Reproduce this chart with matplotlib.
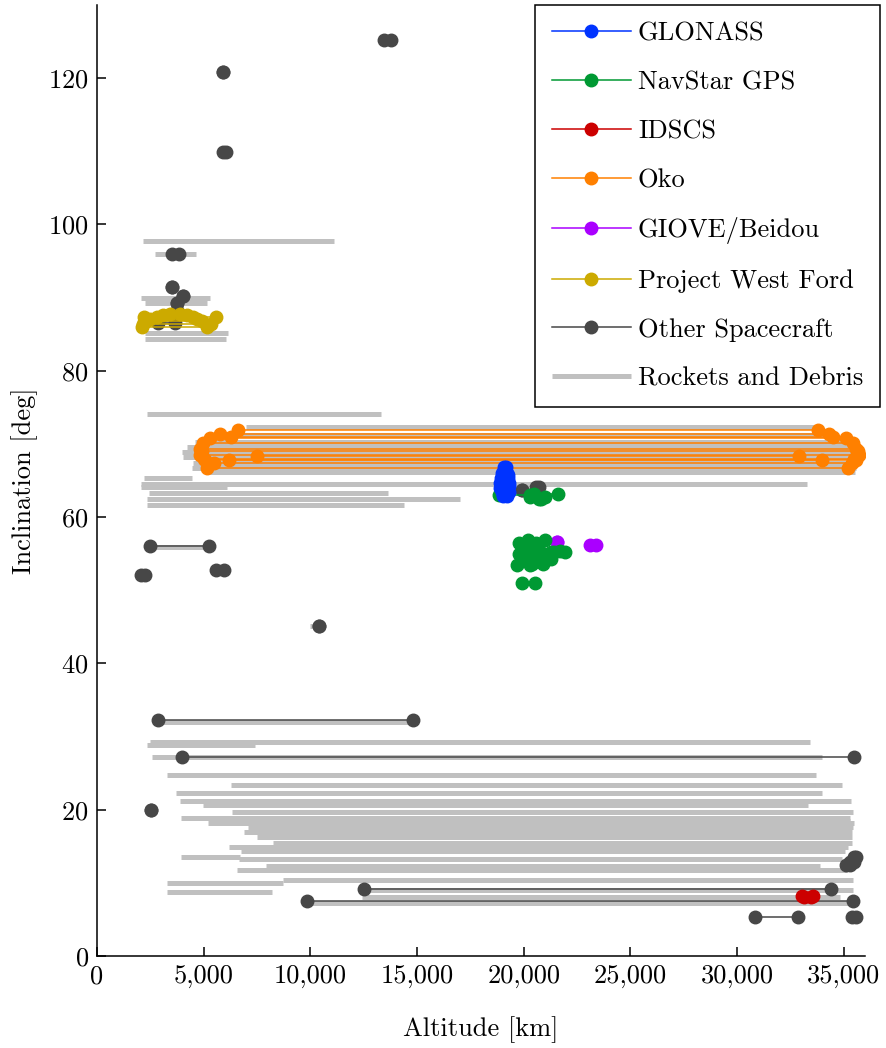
import matplotlib
matplotlib.use("Agg")
import matplotlib.pyplot as plt
from matplotlib.lines import Line2D
from matplotlib.ticker import FuncFormatter

plt.rcParams['font.family'] = 'cmr10'
plt.rcParams['axes.formatter.use_mathtext'] = True

# orbits as (perigee km, apogee km, inclination deg)
glonass = [(19100, 19150, 66.8), (19000, 19200, 66.0), (19100, 19250, 65.7),
           (18950, 19250, 65.3), (18900, 19300, 64.7), (19050, 19300, 64.3),
           (18900, 19250, 64.0), (19000, 19300, 63.4), (19050, 19200, 62.9)]

navstar = [(18850, 20300, 63.0), (20300, 21000, 62.7), (20500, 21600, 63.2),
           (20700, 20800, 62.5),
           (19800, 20600, 56.5), (19900, 20400, 56.0), (20000, 20700, 55.5),
           (19800, 20900, 55.0), (20100, 21200, 54.5), (19900, 20500, 54.0),
           (20300, 21400, 55.2), (20200, 21000, 56.9), (20400, 20900, 53.6),
           (19700, 20300, 53.5), (20600, 21700, 55.3), (20500, 21300, 54.3),
           (21300, 21950, 55.2), (19900, 20550, 51.0)]

idscs = [(33050, 33550, 8.2), (33150, 33450, 8.1)]

oko = [(6600, 33800, 71.9), (6300, 34500, 70.9), (5750, 34300, 71.4),
       (5300, 35100, 70.8), (4950, 35450, 70.1), (4850, 35600, 69.3),
       (4900, 35650, 69.0), (4850, 35700, 68.5), (7500, 32900, 68.4),
       (5000, 35500, 68.0), (5050, 35600, 67.8), (6200, 34000, 67.8),
       (5500, 35400, 67.4), (5150, 35200, 66.7)]

giove = [(21560, 21560, 56.6), (23100, 23400, 56.2)]

west_ford = [(2100, 5150, 86.0), (2150, 5350, 86.4), (2200, 5600, 87.3),
             (2300, 4900, 86.8), (2500, 4700, 87.1), (2800, 4500, 87.4),
             (3100, 4200, 87.6), (3400, 3900, 87.7)]

other = [(13450, 13800, 125.2), (5900, 5900, 120.8), (5900, 6050, 109.9),
         (3500, 3850, 95.9), (3500, 3500, 91.4), (4030, 4030, 90.2),
         (3750, 3750, 89.2), (3750, 3750, 88.2), (2860, 3660, 86.5),
         (19900, 19900, 63.7), (20600, 20700, 64.1),
         (2480, 5250, 56.0), (2050, 2250, 52.1), (5600, 5950, 52.7),
         (10400, 10400, 45.1), (2860, 14800, 32.2), (4000, 35500, 27.2),
         (2530, 2530, 20.0), (35500, 35600, 13.5), (35300, 35500, 12.9),
         (35100, 35300, 12.4), (12500, 34400, 9.2), (9850, 35450, 7.5),
         (30850, 32850, 5.3), (35400, 35600, 5.3)]

debris = [(2160, 11120, 97.7), (2720, 4640, 95.9), (2070, 5300, 89.9),
          (2250, 5160, 89.2), (2800, 3400, 86.7), (2250, 6140, 85.1),
          (2250, 6050, 84.4), (2340, 13300, 74.1),
          (7000, 33600, 72.3), (5800, 34200, 71.2), (4600, 35500, 70.2),
          (4200, 35400, 69.6), (4000, 35600, 68.9), (4030, 35500, 68.2),
          (4500, 35600, 67.4), (4450, 35600, 66.7), (5200, 35550, 66.1),
          (2200, 4450, 65.3), (2060, 33300, 64.5), (2060, 6100, 64.1),
          (2440, 13650, 63.3), (2340, 17000, 62.5), (2340, 14400, 61.6),
          (2480, 5250, 55.9), (10000, 10400, 45.1), (2800, 14700, 32.0),
          (2340, 7400, 28.8), (2500, 33400, 29.2), (2580, 34000, 27.2),
          (3280, 33720, 24.7), (6280, 34940, 23.4), (3700, 34000, 22.3),
          (3890, 35360, 21.2), (4970, 33350, 20.6), (6330, 35460, 19.7),
          (3940, 35320, 18.9), (5200, 35500, 18.2), (5900, 35300, 18.5),
          (7080, 35460, 17.6), (6900, 35400, 16.9), (7500, 35400, 16.3),
          (8250, 35400, 15.4), (6200, 35200, 14.9), (6750, 35080, 14.4),
          (3940, 6700, 13.5), (6660, 34940, 13.3), (7930, 33900, 12.3),
          (6570, 35170, 11.8), (8720, 35460, 10.4), (3280, 8720, 10.0),
          (12430, 35460, 9.0), (3280, 8200, 8.7), (12430, 34850, 8.1),
          (9850, 35460, 7.2)]

groups = [("GLONASS", glonass, "#0033ff"),
          ("NavStar GPS", navstar, "#009933"),
          ("IDSCS", idscs, "#cc0000"),
          ("Oko", oko, "#ff8000"),
          ("GIOVE/Beidou", giove, "#aa00ff"),
          ("Project West Ford", west_ford, "#ccaa00"),
          ("Other Spacecraft", other, "#474747")]
debris_color = "#c0c0c0"

fig = plt.figure(figsize=(8.86, 10.48), dpi=100)
ax = fig.add_axes([0.1095, 0.0878, 0.8668, 0.9074])

for p, a, inc in debris:
    ax.plot([p, a], [inc, inc], color=debris_color, lw=3.6,
            solid_capstyle='butt', zorder=1)

handles = []
for z, (name, orbits, col) in enumerate(reversed(groups)):
    for p, a, inc in orbits:
        ax.plot([p, a], [inc, inc], color=col, lw=1.1, marker='o', ms=9,
                zorder=2 + z)
for name, orbits, col in groups:
    handles.append(Line2D([], [], color=col, lw=1.1, marker='o', ms=9,
                          label=name))
handles.append(Line2D([], [], color=debris_color, lw=3.6,
                      solid_capstyle='butt', label="Rockets and Debris"))

ax.set_xlim(0, 36000)
ax.set_ylim(0, 130)
ax.set_xticks(range(0, 35001, 5000))
ax.set_yticks(range(0, 121, 20))
ax.xaxis.set_major_formatter(FuncFormatter(lambda v, pos: f"{int(v):,}"))
ax.spines['top'].set_visible(False)
ax.spines['right'].set_visible(False)
for s in ('left', 'bottom'):
    ax.spines[s].set_linewidth(1.1)
ax.tick_params(direction='in', length=6.5, width=1.1, labelsize=19, pad=6)
ax.set_xlabel("Altitude [km]", fontsize=19, labelpad=20)
ax.set_ylabel("Inclination [deg]", fontsize=19, labelpad=7)

leg = ax.legend(handles=handles, loc='upper right',
                bbox_to_anchor=(880 / 886, 1 - 5 / 1048),
                bbox_transform=fig.transFigure, fontsize=19,
                fancybox=False, framealpha=1, edgecolor='black',
                handlelength=3.0, handletextpad=0.27, labelspacing=0.95,
                borderpad=0.64, borderaxespad=0)
leg.get_frame().set_linewidth(1.1)

fig.savefig("out.png", dpi=100)
